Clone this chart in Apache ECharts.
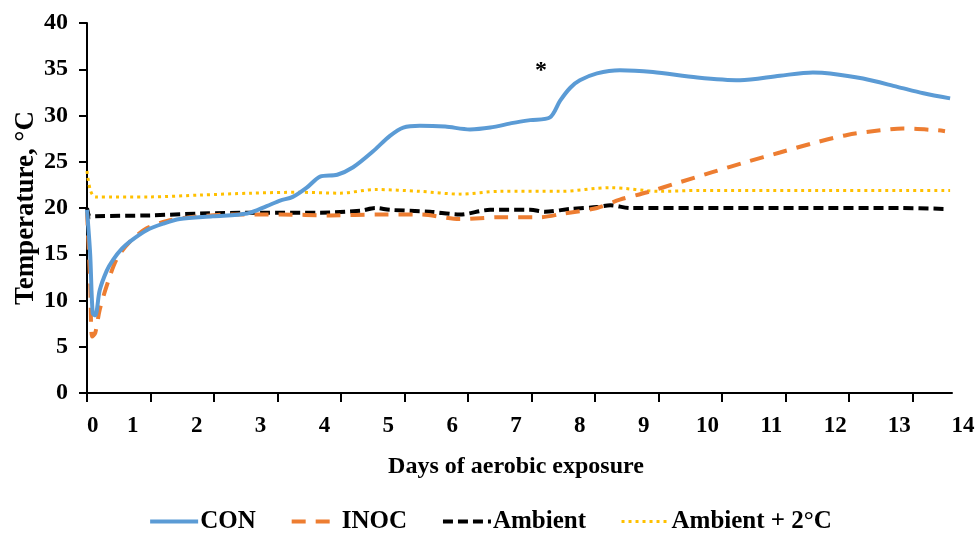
<!DOCTYPE html>
<html>
<head>
<meta charset="utf-8">
<script src="https://cdn.jsdelivr.net/npm/echarts@6/dist/echarts.min.js"></script>
<style>html,body{margin:0;padding:0;background:#fff}#chart{width:980px;height:541px}</style>
</head>
<body>
<div id="chart"></div>
<script>
// ---- data (days of aerobic exposure, temperature °C) ----
const conDays = [0, 0.05, 0.09, 0.13, 0.2, 0.31, 0.41, 0.55, 0.68, 0.94, 1.2, 1.46, 1.98, 2.52, 2.83, 3.04, 3.24, 3.46, 3.67, 3.94, 4.19, 4.5, 4.77, 4.98, 5.24, 5.64, 6.03, 6.35, 6.71, 6.98, 7.29, 7.45, 7.61, 7.76, 8.03, 8.39, 8.91, 9.61, 10.28, 10.91, 11.43, 11.7, 12.22, 12.76, 13.17, 13.59];
const conTemp = [19.8, 15.0, 8.6, 8.4, 11.1, 13.2, 14.4, 15.6, 16.4, 17.6, 18.3, 18.8, 19.1, 19.4, 20.2, 20.8, 21.2, 22.2, 23.4, 23.6, 24.4, 26.1, 27.8, 28.7, 28.9, 28.8, 28.5, 28.7, 29.2, 29.5, 29.8, 31.6, 33.0, 33.8, 34.55, 34.9, 34.7, 34.1, 33.8, 34.3, 34.65, 34.55, 34.0, 33.1, 32.4, 31.85];

const inocDays = [0, 0.05, 0.08, 0.13, 0.2, 0.33, 0.47, 0.68, 0.94, 1.26, 1.62, 2.25, 3.04, 3.83, 4.61, 5.24, 5.87, 6.5, 7.13, 7.5, 8.03, 8.39, 8.82, 9.34, 9.86, 10.39, 10.91, 11.43, 11.97, 12.49, 12.85, 13.39, 13.51];
const inocTemp = [19.6, 12.0, 6.1, 6.5, 9.0, 12.0, 14.5, 16.4, 17.8, 18.6, 19.0, 19.3, 19.3, 19.2, 19.3, 19.3, 18.8, 19.0, 19.0, 19.4, 20.0, 20.9, 21.7, 22.8, 23.9, 25.0, 26.0, 27.0, 27.9, 28.4, 28.6, 28.4, 28.3];

const ambDays = [0, 0.05, 0.13, 0.99, 1.78, 2.72, 3.67, 4.3, 4.54, 4.77, 5.4, 5.87, 6.35, 6.98, 7.21, 7.61, 8.03, 8.24, 8.55, 9.65, 11.23, 12.8, 13.51];
const ambTemp = [20.0, 19.0, 19.1, 19.2, 19.4, 19.5, 19.5, 19.7, 20.0, 19.8, 19.6, 19.3, 19.8, 19.8, 19.6, 19.9, 20.1, 20.3, 20.0, 20.0, 20.0, 20.0, 19.9];

const amb2Days = [0, 0.05, 0.13, 0.99, 1.78, 2.57, 3.35, 3.98, 4.54, 5.24, 5.87, 6.5, 7.45, 8.24, 9.02, 9.65, 11.23, 12.8, 13.59];
const amb2Temp = [24.0, 22.0, 21.2, 21.2, 21.4, 21.6, 21.7, 21.6, 22.0, 21.8, 21.5, 21.8, 21.8, 22.2, 21.8, 21.9, 21.9, 21.9, 21.9];

const seriesNames = ['CON', 'INOC', 'Ambient', 'Ambient + 2°C'];
const xTickLabels = ['0', '1', '2', '3', '4', '5', '6', '7', '8', '9', '10', '11', '12', '13', '14'];
const yTicks = [0, 5, 10, 15, 20, 25, 30, 35, 40];
const starMark = { day: 7.15, temp: 34.8, text: '*' };

// ---- layout / styles ----
const FONT = '"Liberation Serif", "Times New Roman", serif';
const dayTicks = [0, 1, 2, 3, 4, 5, 6, 7, 8, 9, 10, 11, 12, 13];
const labelPositions = xTickLabels.map((s, i) => i === 0 ? 0.37 : i);
const colors = ['#5B9BD5', '#ED7D31', '#000000', '#FFC000'];
const lineStyles = [
  { width: 4, type: 'solid' },
  { width: 4, type: [14, 10] },
  { width: 4, type: [10, 5] },
  { width: 3, type: [3, 4] }
];

function pairs(xs, ys) { return xs.map((x, i) => [x, ys[i]]); }

const chart = echarts.init(document.getElementById('chart'), null, { renderer: 'canvas' });
const axisColor = '#000';
const textStyle = { fontFamily: FONT, fontWeight: 'bold', color: '#000' };

const seriesData = [pairs(conDays, conTemp), pairs(inocDays, inocTemp), pairs(ambDays, ambTemp), pairs(amb2Days, amb2Temp)];

const series = seriesNames.map((name, i) => ({
  name, type: 'line', xAxisIndex: 0, yAxisIndex: 0,
  data: seriesData[i], smooth: 0.3, showSymbol: false, symbol: 'none',
  color: colors[i],
  lineStyle: Object.assign({ color: colors[i] }, lineStyles[i]),
  z: 4 - i
}));
series[0].markPoint = {
  symbol: 'circle', symbolSize: 1, itemStyle: { color: 'rgba(0,0,0,0)' },
  label: Object.assign({ show: true, fontSize: 24, formatter: starMark.text, position: 'inside' }, textStyle),
  data: [{ coord: [starMark.day, starMark.temp] }]
};

chart.setOption({
  backgroundColor: '#fff',
  animation: false,
  textStyle: { fontFamily: FONT },
  grid: [
    { left: 87, right: 28, top: 23, bottom: 148 },
    { left: 69, right: 17, top: 23, bottom: 148 }
  ],
  legend: {
    data: seriesNames.map((name, i) => ({
      name,
      lineStyle: Object.assign({ color: colors[i] }, lineStyles[i])
    })),
    bottom: 2,
    left: 'center',
    itemWidth: 48,
    itemHeight: 16,
    itemGap: 34,
    itemStyle: { opacity: 0 },
    textStyle: Object.assign({ fontSize: 25, padding: [0, 0, 0, -3] }, textStyle)
  },
  xAxis: [
    {
      type: 'value', gridIndex: 0, min: 0, max: 13.62,
      axisLine: { show: true, lineStyle: { color: axisColor, width: 2 } },
      axisTick: { show: true, customValues: dayTicks, length: 9, lineStyle: { color: axisColor, width: 2 } },
      axisLabel: { show: false },
      splitLine: { show: false }
    },
    {
      type: 'value', gridIndex: 1, min: 0, max: 14,
      axisLine: { show: false },
      axisTick: { show: false },
      splitLine: { show: false },
      axisLabel: Object.assign({
        show: true, fontSize: 23, margin: 22,
        customValues: labelPositions,
        formatter: (v) => xTickLabels[Math.round(v)]
      }, textStyle),
      name: 'Days of aerobic exposure',
      nameLocation: 'middle',
      nameGap: 62,
      nameMoveOverlap: false,
      nameTextStyle: Object.assign({ fontSize: 24 }, textStyle)
    }
  ],
  yAxis: [
    {
      type: 'value', gridIndex: 0, min: 0, max: 40, interval: 5,
      axisLine: { show: true, lineStyle: { color: axisColor, width: 2 } },
      axisTick: { show: true, length: 8, lineStyle: { color: axisColor, width: 2 } },
      axisLabel: Object.assign({ fontSize: 24, margin: 19, formatter: (v) => yTicks.includes(v) ? String(v) : '' }, textStyle),
      splitLine: { show: false },
      name: 'Temperature, °C',
      nameLocation: 'middle',
      nameGap: 47,
      nameMoveOverlap: false,
      nameTextStyle: Object.assign({ fontSize: 27 }, textStyle)
    },
    {
      type: 'value', gridIndex: 1, min: 0, max: 40, show: false
    }
  ],
  series
});
</script>
</body>
</html>
